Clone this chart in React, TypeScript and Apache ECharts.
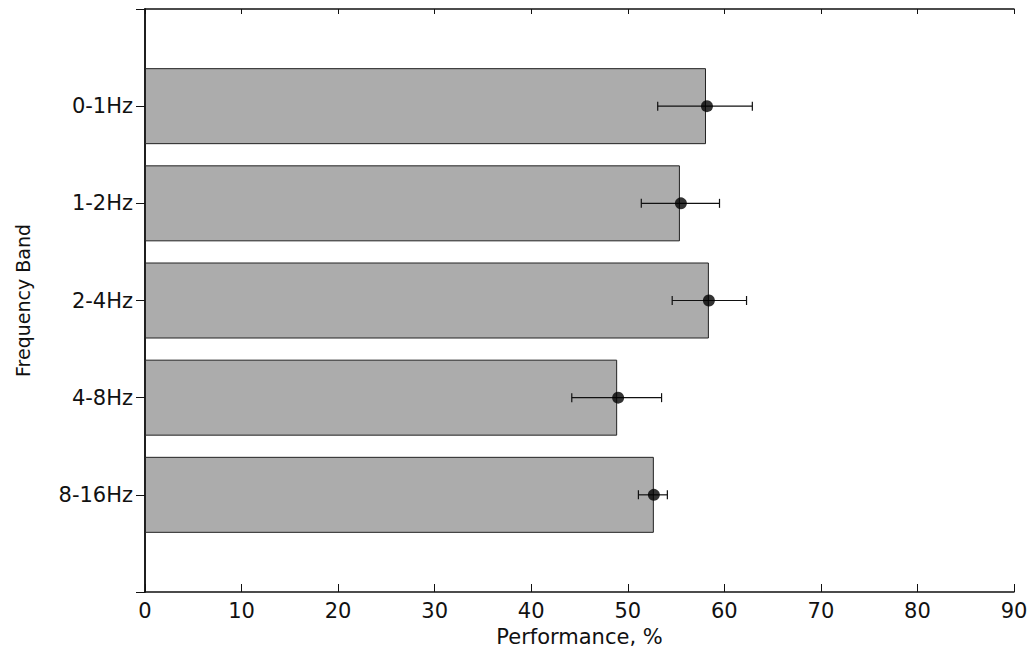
import React, { useEffect, useRef } from "react";
import * as echarts from "echarts";

const categories = ["", "0-1Hz", "1-2Hz", "2-4Hz", "4-8Hz", "8-16Hz", ""];
const barValues = ["-", 58.1, 55.4, 58.4, 48.9, 52.7, "-"];
const meanValues = [58.2, 55.5, 58.4, 49.0, 52.7];
const errLow = [53.1, 51.4, 54.6, 44.2, 51.1];
const errHigh = [62.9, 59.5, 62.3, 53.5, 54.1];
const xTicks = { min: 0, max: 90, interval: 10 };

export default function App() {
  const ref = useRef<HTMLDivElement>(null);
  useEffect(() => {
    const chart = echarts.init(ref.current!, null, { renderer: "svg" });
    const font = "DejaVu Sans, Verdana, sans-serif";
    const errData = meanValues.map((_, i) => [i + 1, errLow[i], errHigh[i]]);
    const dotData = meanValues.map((v, i) => [v, i + 1]);
    chart.setOption({
      animation: false,
      backgroundColor: "#fff",
      grid: { left: 145, right: 19, top: 9, bottom: 63 },
      xAxis: [
        {
          type: "value",
          ...xTicks,
          position: "bottom",
          name: "Performance, %",
          nameLocation: "middle",
          nameGap: 34,
          nameTextStyle: { fontFamily: font, fontSize: 21, color: "#111" },
          axisLine: { show: true, lineStyle: { color: "#111", width: 1.5 } },
          axisTick: { show: true, inside: true, length: 8, lineStyle: { color: "#111" } },
          axisLabel: { fontFamily: font, fontSize: 21, color: "#111", margin: 8 },
          splitLine: { show: false },
        },
        {
          type: "value",
          ...xTicks,
          position: "top",
          axisLine: { show: true, lineStyle: { color: "#111", width: 1.5 } },
          axisTick: { show: true, inside: true, length: 5, lineStyle: { color: "#111" } },
          axisLabel: { show: false },
          splitLine: { show: false },
        },
      ],
      yAxis: [
        {
          type: "category",
          data: categories,
          inverse: true,
          boundaryGap: false,
          position: "left",
          name: "Frequency Band",
          nameLocation: "middle",
          nameRotate: 90,
          nameGap: 113,
          nameTextStyle: { fontFamily: font, fontSize: 19, color: "#111" },
          axisLine: { show: true, lineStyle: { color: "#111", width: 1.5 } },
          axisTick: { show: false },
          axisLabel: { fontFamily: font, fontSize: 21, color: "#111", margin: 12 },
        },
        {
          type: "category",
          data: categories,
          inverse: true,
          boundaryGap: false,
          position: "right",
          axisLine: { show: true, lineStyle: { color: "#111", width: 1.5 } },
          axisTick: { show: true, inside: true, length: 9, lineStyle: { color: "#111" } },
          axisLabel: { show: false },
        },
      ],
      series: [
        {
          type: "bar",
          data: barValues,
          barWidth: 76,
          itemStyle: { color: "#acacac", borderColor: "#222", borderWidth: 1 },
          z: 2,
        },
        {
          type: "custom",
          data: errData,
          z: 3,
          renderItem: (params: any, api: any) => {
            const y = api.value(0);
            const lo = api.coord([api.value(1), y]);
            const hi = api.coord([api.value(2), y]);
            const h = 4.5;
            const style = { stroke: "#111", lineWidth: 1.2 };
            return {
              type: "group",
              children: [
                { type: "line", shape: { x1: lo[0], y1: lo[1], x2: hi[0], y2: hi[1] }, style },
                { type: "line", shape: { x1: lo[0], y1: lo[1] - h, x2: lo[0], y2: lo[1] + h }, style },
                { type: "line", shape: { x1: hi[0], y1: hi[1] - h, x2: hi[0], y2: hi[1] + h }, style },
              ],
            };
          },
        },
        {
          type: "scatter",
          data: dotData,
          symbol: "circle",
          symbolSize: 12,
          itemStyle: { color: "#000" },
          z: 4,
        },
      ],
    });
    return () => chart.dispose();
  }, []);
  return (
    <div
      ref={ref}
      style={{ position: "fixed", left: 0, top: 0, width: 1033, height: 655 }}
    />
  );
}
